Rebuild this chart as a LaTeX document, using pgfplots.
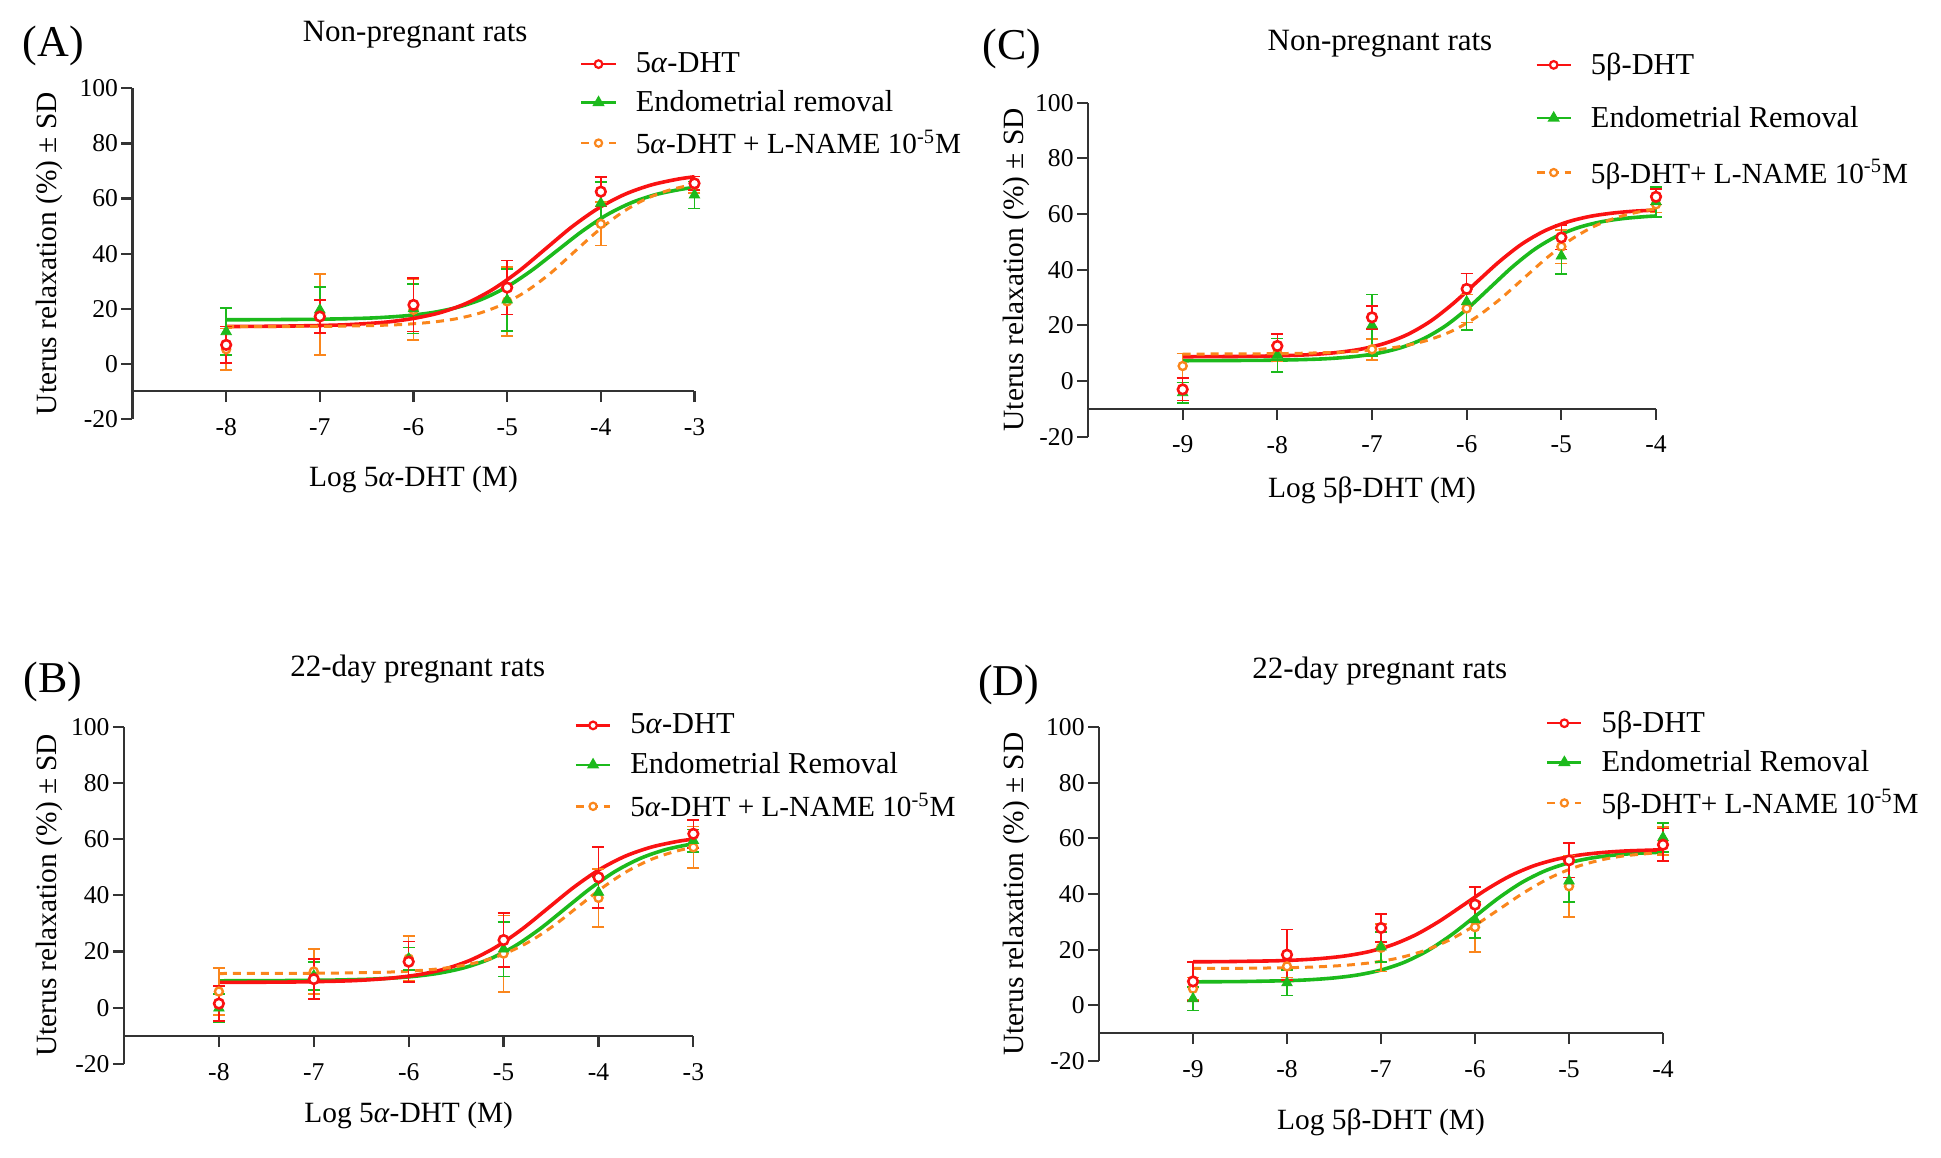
\documentclass[border=0pt]{standalone}
\usepackage{pgfplots}
\pgfplotsset{compat=1.18}
\usepackage{fontspec}
\setmainfont{Liberation Serif}
\definecolor{cred}{HTML}{FA1212}
\definecolor{cgreen}{HTML}{1CBA1C}
\definecolor{corange}{HTML}{FA861C}
\definecolor{axgray}{HTML}{333333}
\newcommand{\thirdfont}{\fontsize{14.6}{17}\selectfont}
\pgfplotsset{
  prism/.style={
    scale only axis, clip=false,
    axis x line=bottom, axis y line=left,
    axis x line shift=-13.9pt,
    axis line style={-, draw=axgray, line width=1.1pt},
    tick style={draw=axgray, line width=1.1pt},
    tick align=outside, major tick length=5.5pt,
    ymin=-20, ymax=100, ytick={-20,0,...,100},
    yticklabel={\pgfmathparse{int(\tick)}\pgfmathresult},
    xticklabel={\pgfmathparse{int(\tick)}\pgfmathresult},
    tick label style={font=\fontsize{12.8}{15}\selectfont},
    yticklabel style={xshift=1.8pt},
    xticklabel style={yshift=-4.5pt},
    ylabel={Uterus relaxation (\%) ± SD},
    ylabel style={anchor=center, font=\fontsize{14.7}{17}\selectfont},
    xlabel style={anchor=center, font=\fontsize{14.7}{17}\selectfont},
    legend style={anchor=north west, draw=none, fill=none, inner sep=0pt,
      font=\fontsize{15.2}{17}\selectfont, cells={anchor=west},
      nodes={inner sep=1pt},
      /tikz/every odd column/.append style={column sep=8.5pt}},
    legend cell align=left,
  },
  redline/.style={cred, line width=1.8pt, smooth, no marks, forget plot},
  greenline/.style={cgreen, line width=1.8pt, smooth, no marks, forget plot},
  orangeline/.style={corange, line width=1.5pt, dash pattern=on 4pt off 3pt, smooth, no marks, forget plot},
  redpts/.style={cred, only marks, forget plot, mark=*, mark size=2.4pt,
    mark options={draw=cred, fill=white, line width=1.3pt},
    error bars/.cd, y dir=both, y explicit,
    error bar style={line width=0.8pt, cred},
    error mark options={rotate=90, mark size=3pt, line width=0.8pt, cred}},
  greenpts/.style={cgreen, only marks, forget plot, mark=triangle*, mark size=3pt,
    mark options={draw=cgreen, fill=cgreen},
    error bars/.cd, y dir=both, y explicit,
    error bar style={line width=0.8pt, cgreen},
    error mark options={rotate=90, mark size=3pt, line width=0.8pt, cgreen}},
  orangepts/.style={corange, only marks, forget plot, mark=*, mark size=2pt,
    mark options={draw=corange, fill=white, line width=1.2pt},
    error bars/.cd, y dir=both, y explicit,
    error bar style={line width=0.8pt, corange},
    error mark options={rotate=90, mark size=3pt, line width=0.8pt, corange}},
}
\newcommand{\legred}{\addlegendimage{cred, line width=1.2pt, mark=*, mark size=1.9pt, mark options={fill=white, line width=1.1pt}}}
\newcommand{\leggreen}{\addlegendimage{cgreen, line width=1.2pt, mark=triangle*, mark size=2.4pt}}
\newcommand{\legorange}{\addlegendimage{corange, line width=1.2pt, dash pattern=on 4pt off 3pt, mark=*, mark size=1.8pt, mark options={solid, fill=white, line width=1.1pt}}}
\begin{document}
\begin{tikzpicture}
\useasboundingbox (0,0) rectangle (970.5pt,-578.5pt);

% ---------------- Panel A ----------------
\begin{axis}[prism, at={(66.25pt,-209.5pt)}, anchor=south west,
  width=281pt, height=165.35pt, xmin=-9, xmax=-3, xtick={-8,...,-3},
  xlabel={Log 5\textit{α}-DHT (M)},
  xlabel style={at={(axis description cs:0.5,-0.184)}},
  ylabel style={at={(axis description cs:-0.148,0.5)}},
  legend style={at={(axis description cs:0.796,1.115)}, row sep=5.5pt}]
\addplot[greenline] coordinates {(-8,16.0) (-7.115,16.16) (-6.586,16.5) (-6.32,16.88) (-6.057,17.54) (-5.79,18.66) (-5.528,20.55) (-5.264,23.55) (-5.0,28.0) (-4.735,34.0) (-4.47,41.0) (-4.205,48.0) (-3.94,54.0) (-3.676,58.45) (-3.412,61.45) (-3.147,63.34) (-3,64.0)};
\addplot[redline] coordinates {(-8,13.56) (-7.40,13.7) (-6.84,14.06) (-6.56,14.5) (-6.28,15.2) (-6.00,16.5) (-5.715,18.6) (-5.434,22.0) (-5.15,27.1) (-4.87,33.8) (-4.59,41.75) (-4.31,49.7) (-4.03,56.4) (-3.746,61.5) (-3.465,64.9) (-3.184,67.0) (-3,67.9)};
\addplot[orangeline] coordinates {(-8,13.5) (-7.4,13.55) (-6.805,13.67) (-6.30,14.04) (-6.05,14.45) (-5.795,15.17) (-5.54,16.4) (-5.29,18.45) (-5.038,21.73) (-4.785,26.6) (-4.53,33.1) (-4.28,40.75) (-4.027,48.4) (-3.775,54.9) (-3.523,59.8) (-3.27,63.05) (-3,65.2)};
\addplot[orangepts] table[x=x, y=y, y error=e] {
x y e
-8 5.3 7.5
-7 18.0 14.7
-6 19.6 11.0
-5 22.7 12.5
-4 50.8 7.9
-3 65.0 3.0
};
\addplot[greenpts] table[x=x, y=y, y error=e] {
x y e
-8 11.7 8.5
-7 19.6 8.4
-6 20.0 9.0
-5 23.2 11.3
-4 58.3 7.7
-3 61.3 4.9
};
\addplot[redpts] table[x=x, y=y, y error=e] {
x y e
-8 6.9 6.6
-7 17.2 6.0
-6 21.4 9.7
-5 27.7 9.8
-4 62.5 5.4
-3 65.5 2.5
};
\legred\addlegendentry{5\textit{α}-DHT}
\leggreen\addlegendentry{Endometrial removal}
\legorange\addlegendentry{\thirdfont 5\textit{α}-DHT + L-NAME 10\textsuperscript{-5}M}
\node[font=\fontsize{15.5}{18}\selectfont] at (axis description cs:0.503,1.161) {Non-pregnant rats};
\node[font=\fontsize{22}{25}\selectfont] at (axis description cs:-0.141,1.128) {(A)};
\end{axis}

% ---------------- Panel C ----------------
\begin{axis}[prism, at={(544pt,-218.35pt)}, anchor=south west,
  width=284pt, height=167pt, xmin=-10, xmax=-4, xtick={-9,...,-4},
  xlabel={Log 5β-DHT (M)},
  xlabel style={at={(axis description cs:0.5,-0.16)}},
  ylabel style={at={(axis description cs:-0.126,0.5)}},
  legend style={at={(axis description cs:0.787,1.157)}, row sep=12.5pt}]
\addplot[greenline] coordinates {(-9,7.3) (-8.09,7.47) (-7.622,7.82) (-7.388,8.22) (-7.154,8.92) (-6.92,10.1) (-6.686,12.09) (-6.452,15.26) (-6.218,19.96) (-5.984,26.27) (-5.75,33.65) (-5.516,41.03) (-5.282,47.34) (-5.048,52.04) (-4.814,55.21) (-4.58,57.2) (-4.346,58.38) (-4.112,59.08) (-4,59.3)};
\addplot[redline] coordinates {(-9,8.73) (-8.31,8.87) (-7.83,9.23) (-7.587,9.63) (-7.346,10.34) (-7.105,11.54) (-6.864,13.55) (-6.623,16.75) (-6.382,21.5) (-6.141,27.9) (-5.90,35.35) (-5.659,42.8) (-5.418,49.2) (-5.177,53.95) (-4.936,57.15) (-4.695,59.17) (-4.454,60.36) (-4.213,61.07) (-4,61.4)};
\addplot[orangeline] coordinates {(-9,9.7) (-8.4,9.75) (-7.935,9.87) (-7.428,10.24) (-7.175,10.65) (-6.921,11.37) (-6.668,12.59) (-6.414,14.64) (-6.16,17.9) (-5.907,22.75) (-5.654,29.24) (-5.40,36.85) (-5.146,44.46) (-4.893,50.95) (-4.64,55.8) (-4.386,59.06) (-4.133,61.11) (-4,61.8)};
\addplot[orangepts] table[x=x, y=y, y error=e] {
x y e
-9 5.4 4.5
-8 10.0 3.0
-7 11.4 3.8
-6 26.1 5.0
-5 48.3 6.0
-4 63.5 3.0
};
\addplot[greenpts] table[x=x, y=y, y error=e] {
x y e
-9 -4.2 3.7
-8 9.3 6.0
-7 20.1 11.0
-6 28.5 10.2
-5 44.9 6.5
-4 64.4 5.4
};
\addplot[redpts] table[x=x, y=y, y error=e] {
x y e
-9 -3.0 4.0
-8 12.6 4.2
-7 22.9 4.1
-6 33.1 5.6
-5 51.6 4.4
-4 66.2 2.7
};
\legred\addlegendentry{5β-DHT}
\leggreen\addlegendentry{Endometrial Removal}
\legorange\addlegendentry{\thirdfont 5β-DHT+ L-NAME 10\textsuperscript{-5}M}
\node[font=\fontsize{15.5}{18}\selectfont] at (axis description cs:0.514,1.1765) {Non-pregnant rats};
\node[font=\fontsize{22}{25}\selectfont] at (axis description cs:-0.134,1.161) {(C)};
\end{axis}

% ---------------- Panel B ----------------
\begin{axis}[prism, at={(62pt,-532pt)}, anchor=south west,
  width=284.7pt, height=168.65pt, xmin=-9, xmax=-3, xtick={-8,...,-3},
  xlabel={Log 5\textit{α}-DHT (M)},
  xlabel style={at={(axis description cs:0.5,-0.153)}},
  ylabel style={at={(axis description cs:-0.131,0.5)}},
  legend style={at={(axis description cs:0.791,1.045)}, row sep=6pt}]
\addplot[greenline] coordinates {(-8,9.6) (-7.0,9.76) (-6.476,10.11) (-6.21,10.5) (-5.945,11.18) (-5.679,12.33) (-5.413,14.27) (-5.147,17.36) (-4.882,21.95) (-4.616,28.1) (-4.35,35.3) (-4.084,42.5) (-3.818,48.65) (-3.553,53.24) (-3.287,56.33) (-3,58.4)};
\addplot[redline] coordinates {(-8,9.03) (-7.25,9.17) (-6.706,9.52) (-6.434,9.93) (-6.162,10.63) (-5.89,11.82) (-5.618,13.82) (-5.346,17.0) (-5.074,21.74) (-4.802,28.07) (-4.53,35.5) (-4.258,42.93) (-3.986,49.26) (-3.714,54.0) (-3.442,57.18) (-3.17,59.18) (-3,60.0)};
\addplot[orangeline] coordinates {(-8,12.2) (-7.4,12.25) (-6.76,12.35) (-6.25,12.67) (-5.995,13.04) (-5.74,13.67) (-5.485,14.74) (-5.23,16.55) (-4.975,19.42) (-4.72,23.69) (-4.465,29.4) (-4.21,36.1) (-3.955,42.8) (-3.70,48.51) (-3.445,52.78) (-3.19,55.65) (-3,57.1)};
\addplot[orangepts] table[x=x, y=y, y error=e] {
x y e
-8 5.8 8.3
-7 12.9 8.0
-6 17.5 8.0
-5 19.3 13.6
-4 39.1 10.3
-3 57.1 7.4
};
\addplot[greenpts] table[x=x, y=y, y error=e] {
x y e
-8 -0.1 5.0
-7 11.4 5.0
-6 17.5 4.0
-5 20.9 9.7
-4 41.1 5.5
-3 59.5 4.0
};
\addplot[redpts] table[x=x, y=y, y error=e] {
x y e
-8 1.5 6.3
-7 10.2 7.1
-6 16.4 7.2
-5 24.1 9.6
-4 46.4 10.9
-3 61.9 5.0
};
\legred\addlegendentry{5\textit{α}-DHT}
\leggreen\addlegendentry{Endometrial Removal}
\legorange\addlegendentry{\thirdfont 5\textit{α}-DHT + L-NAME 10\textsuperscript{-5}M}
\node[font=\fontsize{15.5}{18}\selectfont] at (axis description cs:0.516,1.1716) {22-day pregnant rats};
\node[font=\fontsize{22}{25}\selectfont] at (axis description cs:-0.125,1.133) {(B)};
\end{axis}

% ---------------- Panel D ----------------
\begin{axis}[prism, at={(549.5pt,-530.5pt)}, anchor=south west,
  width=282pt, height=167pt, xmin=-10, xmax=-4, xtick={-9,...,-4},
  xlabel={Log 5β-DHT (M)},
  xlabel style={at={(axis description cs:0.5,-0.184)}},
  ylabel style={at={(axis description cs:-0.146,0.5)}},
  legend style={at={(axis description cs:0.792,1.055)}, row sep=5.5pt}]
\addplot[greenline] coordinates {(-9,8.45) (-8.5,8.55) (-8.0,8.87) (-7.75,9.22) (-7.5,9.85) (-7.25,10.91) (-7.0,12.68) (-6.75,15.51) (-6.5,19.72) (-6.25,25.35) (-6.0,31.95) (-5.75,38.55) (-5.5,44.18) (-5.25,48.39) (-5.0,51.22) (-4.75,53.0) (-4.5,54.05) (-4.25,54.68) (-4,55.03)};
\addplot[redline] coordinates {(-9,15.65) (-8.63,15.73) (-8.13,16.0) (-7.88,16.31) (-7.63,16.85) (-7.38,17.76) (-7.13,19.29) (-6.88,21.73) (-6.63,25.36) (-6.38,30.21) (-6.13,35.9) (-5.88,41.59) (-5.63,46.44) (-5.38,50.07) (-5.13,52.51) (-4.88,54.04) (-4.63,54.95) (-4.38,55.49) (-4,55.9)};
\addplot[orangeline] coordinates {(-9,13.24) (-8.4,13.34) (-7.868,13.62) (-7.602,13.95) (-7.336,14.51) (-7.07,15.48) (-6.804,17.09) (-6.538,19.66) (-6.272,23.48) (-6.006,28.6) (-5.74,34.6) (-5.474,40.6) (-5.208,45.72) (-4.942,49.54) (-4.676,52.11) (-4.41,53.72) (-4,55.0)};
\addplot[orangepts] table[x=x, y=y, y error=e] {
x y e
-9 6.0 4.0
-8 14.0 4.0
-7 20.7 8.5
-6 28.1 9.0
-5 42.8 11.0
-4 59.0 5.0
};
\addplot[greenpts] table[x=x, y=y, y error=e] {
x y e
-9 2.4 4.2
-8 8.1 4.5
-7 21.0 5.4
-6 30.8 6.5
-5 44.7 7.6
-4 60.3 5.2
};
\addplot[redpts] table[x=x, y=y, y error=e] {
x y e
-9 8.6 7.0
-8 18.2 9.0
-7 27.8 5.1
-6 36.2 6.3
-5 52.1 6.2
-4 57.7 5.8
};
\legred\addlegendentry{5β-DHT}
\leggreen\addlegendentry{Endometrial Removal}
\legorange\addlegendentry{\thirdfont 5β-DHT+ L-NAME 10\textsuperscript{-5}M}
\node[font=\fontsize{15.5}{18}\selectfont] at (axis description cs:0.498,1.168) {22-day pregnant rats};
\node[font=\fontsize{22}{25}\selectfont] at (axis description cs:-0.16,1.127) {(D)};
\end{axis}
\end{tikzpicture}
\end{document}
